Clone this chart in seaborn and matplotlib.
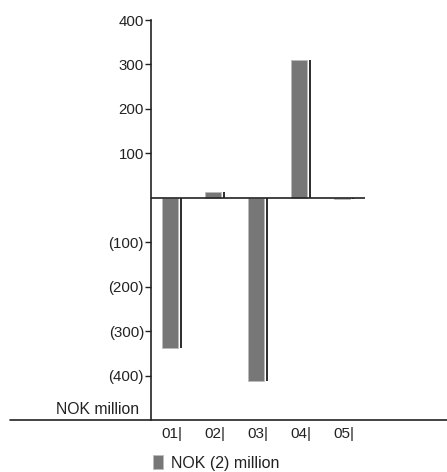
import numpy as np
import pandas as pd
import seaborn as sns
import matplotlib.pyplot as plt

# data
periods = ["01", "02", "03", "04", "05"]
values = [-337, 13, -413, 310, -2]
ytick_vals = [400, 300, 200, 100, -100, -200, -300, -400]
ytick_labels = ["400", "300", "200", "100", "(100)", "(200)", "(300)", "(400)"]
series_name = "NOK (2) million"

sns.set_style("white")
plt.rcParams['font.family'] = ['Liberation Sans', 'DejaVu Sans']

df = pd.DataFrame({'period': periods, 'value': values})

fig = plt.figure(figsize=(4.47, 4.72), dpi=100)
ax = fig.add_axes([151 / 447, 1 - 420 / 472, (365 - 151) / 447, (420 - 20) / 472])

sns.barplot(data=df, x='period', y='value', color='#777777', width=0.37,
            edgecolor='#bbbbbb', linewidth=0.6, label=series_name, ax=ax)

# thin dark line just right of each bar
idx = np.arange(len(periods))
ax.vlines(idx + 0.26, 0, values, color='#1a1a1a', lw=1.3)

ax.axhline(0, color='#222222', lw=1.2)
ax.axhline(-500, xmin=-0.66, xmax=1.4, color='#222222', lw=1.2, clip_on=False)

ax.set_xlim(-0.44, 4.53)
ax.set_ylim(-500, 400)

ax.set_yticks(ytick_vals)
ax.set_yticklabels(ytick_labels)
ax.set_xticks(idx + 0.05)
ax.set_xticklabels([p + "|" for p in periods])
ax.tick_params(axis='y', left=True, direction='out', length=4, width=1, color='#222222',
               labelsize=10.8, pad=1, labelcolor='#222222')
ax.tick_params(axis='x', bottom=False, length=0, labelsize=11, pad=5, labelcolor='#222222')
ax.set_xlabel('')
ax.set_ylabel('')

for s in ['top', 'right', 'bottom']:
    ax.spines[s].set_visible(False)
ax.spines['left'].set_color('#222222')
ax.spines['left'].set_linewidth(1.2)

fig.text(139 / 447, 1 - 409 / 472, "NOK million", ha='right', va='center',
         fontsize=11.3, color='#222222')

fig.legend(*ax.get_legend_handles_labels(), loc='center left',
           bbox_to_anchor=(145 / 447, 1 - 463 / 472), frameon=False,
           handlelength=0.65, handleheight=0.9, handletextpad=0.5,
           borderpad=0, fontsize=11.5, labelcolor='#222222')
ax.get_legend().remove() if ax.get_legend() else None

fig.savefig('out.png', dpi=100)
